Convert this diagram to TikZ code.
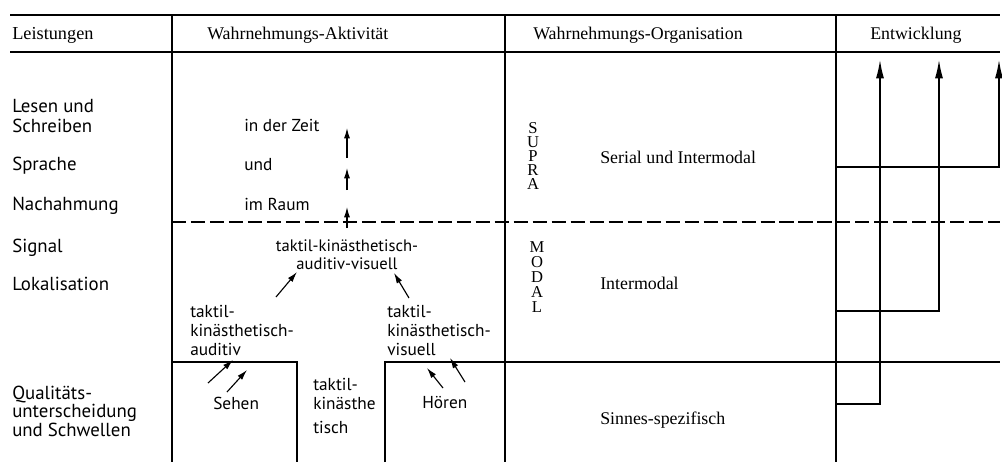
\documentclass[tikz,border=0pt]{standalone}
\usepackage{fontspec}
\setmainfont{Liberation Serif}
\newfontfamily\bodyfont{PT Sans}
\usetikzlibrary{arrows.meta}

\tikzset{
  head/.style={font=\fontsize{12.7}{14}\selectfont,inner sep=0pt,anchor=west},
  txt/.style={font=\bodyfont\fontsize{12.3}{14.2}\selectfont,inner sep=0pt,anchor=west,align=left},
  left/.style={txt,font=\bodyfont\fontsize{13.4}{14.2}\selectfont},
  orga/.style={font=\fontsize{11.8}{10.1}\selectfont,inner sep=0pt,align=center},
  rule/.style={line width=0.9pt},
  small/.style={line width=0.8pt,-{Latex[length=2.6mm,width=1.5mm]}}
}

\begin{document}
\begin{tikzpicture}[x=0.025cm,y=-0.025cm,>={Latex[length=4.6mm,width=2mm]}]

\useasboundingbox (0,0) rectangle (1002,462);

% frame of the table
\draw[rule] (10,15)--(1000,15);
\draw[rule] (10,52)--(1000,52);
\draw[rule] (172,15)--(172,462);
\draw[rule] (505,15)--(505,462);
\draw[rule] (836,15)--(836,462);
\draw[rule,dash pattern=on 10pt off 3.5pt] (172,222)--(1000,222);
\draw[rule] (172,362)--(297,362)--(297,462);
\draw[rule] (385,462)--(385,362)--(1000,362);

% headings
\node[head,font=\fontsize{13}{14}\selectfont] (leist) at (12,35) {Leistungen};
\node[head] (aktiv) at (207,35) {Wahrnehmungs-Aktivität};
\node[head] (orga) at (533,35) {Wahrnehmungs-Organisation};
\node[head] (entw) at (870,35) {Entwicklung};

% Leistungen
\node[left] (lesen) at (12,116) {Lesen und\\Schreiben};
\node[left] (sprache) at (12,166) {Sprache};
\node[left] (nachahm) at (12,206) {Nachahmung};
\node[left] (signal) at (12,248) {Signal};
\node[left] (lokal) at (12,284) {Lokalisation};
\node[left,font=\bodyfont\fontsize{13.4}{11.8}\selectfont] (qual) at (12,411) {Qualitäts-\\unterscheidung\\und Schwellen};

% Wahrnehmungs-Aktivitaet
\node[txt] (zeit) at (244,125) {in der Zeit};
\node[txt] (und) at (244,165) {und};
\node[txt] (raum) at (244,204) {im Raum};
\node[txt,anchor=center,align=center,font=\bodyfont\fontsize{11.8}{12.8}\selectfont] (tkav) at (347,255) {taktil-kinästhetisch-\\auditiv-visuell};
\node[txt,font=\bodyfont\fontsize{12.3}{13.5}\selectfont] (tka) at (190,330) {taktil-\\kinästhetisch-\\auditiv};
\node[txt,font=\bodyfont\fontsize{12.3}{13.5}\selectfont] (tkv) at (387,330) {taktil-\\kinästhetisch-\\visuell};
\node[txt] (sehen) at (213,403) {Sehen};
\node[txt,font=\bodyfont\fontsize{12.3}{13.5}\selectfont] (tk) at (313,406) {taktil-\\kinästhe\\[4pt]tisch};
\node[txt] (hoeren) at (422,403) {Hören};

\coordinate (z1) at (347,158);
\coordinate (z2) at (347,128);
\coordinate (u1) at (347,190);
\coordinate (u2) at (347,168);
\coordinate (r1) at (347,228);
\coordinate (r2) at (347,207);
\draw[small] (z1)--(z2);
\draw[small] (u1)--(u2);
\draw[small] (r1)--(r2);

\coordinate (la) at (276,297);
\coordinate (lb) at (297,272);
\coordinate (ra) at (409,298);
\coordinate (rb) at (394,273);
\draw[small] (la)--(lb);
\draw[small] (ra)--(rb);

\coordinate (s1a) at (208,383);
\coordinate (s1b) at (233,360);
\coordinate (s2a) at (227,392);
\coordinate (s2b) at (247,370);
\draw[small] (s1a)--(s1b);
\draw[small] (s2a)--(s2b);

\coordinate (h1a) at (443,388);
\coordinate (h1b) at (427,368);
\coordinate (h2a) at (465,382);
\coordinate (h2b) at (450,358);
\draw[small] (h1a)--(h1b);
\draw[small] (h2a)--(h2b);

% Wahrnehmungs-Organisation
\node[orga] (supra) at (533,156) {S\\U\\P\\R\\A};
\node[orga,font=\fontsize{11.8}{10.6}\selectfont] (modal) at (537,277) {M\\O\\D\\A\\L};
\node[head] (serial) at (600,157) {Serial und Intermodal};
\node[head] (inter) at (600,283) {Intermodal};
\node[head] (sinnes) at (600,420) {Sinnes-spezifisch};

% Entwicklung
\coordinate (e1) at (836,404);
\coordinate (e2) at (836,311);
\coordinate (e3) at (836,167);
\coordinate (t1) at (880,60);
\coordinate (t2) at (939,60);
\coordinate (t3) at (999,60);
\draw[rule,->] (e1) -| (t1);
\draw[rule,->] (e2) -| (t2);
\draw[rule,->] (e3) -| (t3);

\end{tikzpicture}
\end{document}
